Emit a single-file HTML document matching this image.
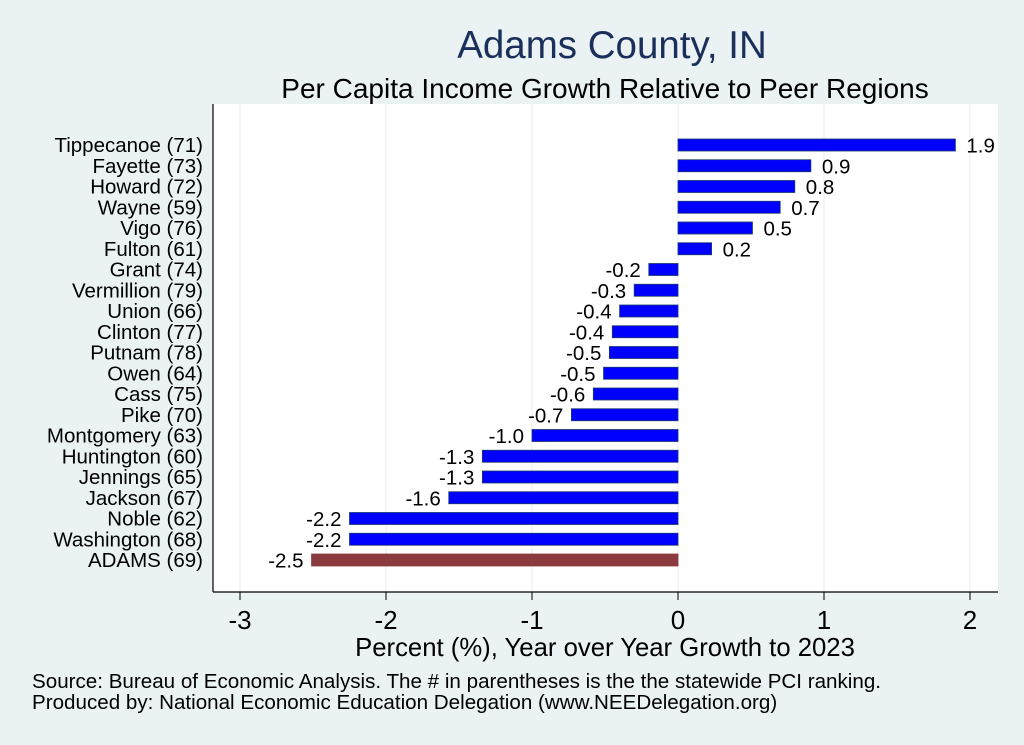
<!DOCTYPE html>
<html><head><meta charset="utf-8"><style>
body{margin:0;background:#eaf2f3;}
svg{display:block;font-family:"Liberation Sans",Arial,sans-serif;}
</style></head><body>
<svg id="c" width="1024" height="745">
<rect x="0" y="0" width="1024" height="745" fill="#eaf2f3"/>
<rect x="213" y="104" width="785" height="488" fill="#ffffff"/>
<text x="612" y="58" text-anchor="middle" font-size="38.5" fill="#1a2f5a">Adams County, IN</text>
<text x="605" y="98" text-anchor="middle" font-size="28" fill="#000">Per Capita Income Growth Relative to Peer Regions</text>
<g id="grid"></g><g id="bars"></g><g id="axes"></g>
<text x="605" y="656" text-anchor="middle" font-size="25.7" fill="#000">Percent (%), Year over Year Growth to 2023</text>
<text x="32" y="688" font-size="20.6" fill="#000">Source: Bureau of Economic Analysis. The # in parentheses is the the statewide PCI ranking.</text>
<text x="32" y="709" font-size="20.6" fill="#000">Produced by: National Economic Education Delegation (www.NEEDelegation.org)</text>
</svg>
<script>
const categories=["Tippecanoe (71)","Fayette (73)","Howard (72)","Wayne (59)","Vigo (76)","Fulton (61)","Grant (74)","Vermillion (79)","Union (66)","Clinton (77)","Putnam (78)","Owen (64)","Cass (75)","Pike (70)","Montgomery (63)","Huntington (60)","Jennings (65)","Jackson (67)","Noble (62)","Washington (68)","ADAMS (69)"];
const values=[1.90,0.91,0.80,0.70,0.51,0.23,-0.20,-0.30,-0.40,-0.45,-0.47,-0.51,-0.58,-0.73,-1.0,-1.34,-1.34,-1.57,-2.25,-2.25,-2.51];
const labels=["1.9","0.9","0.8","0.7","0.5","0.2","-0.2","-0.3","-0.4","-0.4","-0.5","-0.5","-0.6","-0.7","-1.0","-1.3","-1.3","-1.6","-2.2","-2.2","-2.5"];
const ticks=[-3,-2,-1,0,1,2];
const NS="http://www.w3.org/2000/svg";
const xs=v=>678+v*146;
const ys=i=>145+i*20.75;
function mk(t,a,p){const e=document.createElementNS(NS,t);for(const k in a)e.setAttribute(k,a[k]);p.appendChild(e);return e;}
const grid=document.getElementById('grid'),bars=document.getElementById('bars'),axes=document.getElementById('axes');
ticks.forEach(t=>{
 const g=mk('line',{x1:xs(t),x2:xs(t),y1:104,y2:592,stroke:'#eef4f5','stroke-width':1.5},grid);
 
 
 const tk=mk('line',{x1:xs(t),x2:xs(t),y1:592,y2:600,stroke:'#000','stroke-width':1},axes);
 
 
 const tl=mk('text',{x:xs(t),y:629,'text-anchor':'middle','font-size':26},axes);
 tl.textContent=t;
 
 
});
categories.forEach((c,i)=>{
 const v=values[i],y=ys(i),adams=i===categories.length-1;
 const x0=Math.min(xs(0),xs(v)),w=Math.abs(xs(v)-xs(0));
 const r=mk('rect',{x:x0,y:y-6,width:w,height:12,fill:adams?'#8b3a3e':'#0000ff',stroke:adams?'#8b3a3e':'#1a3a6a','stroke-width':0.8},bars);
 
 
 const l=mk('text',{x:v>=0?xs(v)+11:xs(v)-8,y:y+7.5,'text-anchor':v>=0?'start':'end','font-size':20.5},bars);
 l.textContent=labels[i];
 
 
 const cl=mk('text',{x:203,y:y+7,'text-anchor':'end','font-size':20.5},axes);
 cl.textContent=c;
 
 
});
const ax=mk('line',{x1:213,x2:998,y1:592,y2:592,stroke:'#000','stroke-width':1.2},axes);


const ay=mk('line',{x1:213,x2:213,y1:104,y2:592,stroke:'#000','stroke-width':1.2},axes);


</script>
</body></html>
